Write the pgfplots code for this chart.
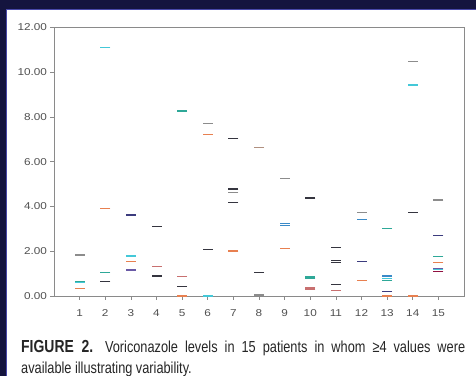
\documentclass[border=0pt]{standalone}
\usepackage{pgfplots}
\pgfplotsset{compat=1.18}
\usepackage{fontspec}
\setmainfont{Liberation Sans}
\newfontfamily\capfont[FakeStretch=0.8]{Liberation Sans}
\newfontfamily\capbold[FakeStretch=0.8]{Liberation Sans Bold}
\newfontfamily\ticfont[FakeStretch=1.18]{Liberation Sans}
\definecolor{navyb}{HTML}{14143E}
\definecolor{navyl}{HTML}{4848A8}
\definecolor{cgray}{HTML}{8C8C8C}
\definecolor{cdark}{HTML}{35353F}
\definecolor{cnavy}{HTML}{3C3C7E}
\definecolor{cpurp}{HTML}{6A5AA6}
\definecolor{cteal}{HTML}{2EA898}
\definecolor{ccyan}{HTML}{44C8D8}
\definecolor{cblue}{HTML}{3A8AC8}
\definecolor{coran}{HTML}{E88050}
\definecolor{cpink}{HTML}{C87070}
\definecolor{ctan}{HTML}{B09080}
\definecolor{cmag}{HTML}{901040}
\definecolor{axgray}{HTML}{8A8A8A}
\definecolor{lblgray}{HTML}{505050}
\begin{document}
\begin{tikzpicture}
% white page, navy border on left and top only
\fill[white] (-54bp,-80bp) rectangle (422bp,296bp);
\fill[navyb] (-54bp,-80bp) rectangle (-47bp,296bp);
\fill[navyb] (-54bp,286bp) rectangle (422bp,296bp);
\draw[navyl, line width=1bp] (-47bp,-80bp) -- (-47bp,286bp) -- (422bp,286bp);
\begin{axis}[
  at={(0,0)}, anchor=south west,
  scale only axis, width=410bp, height=268.7bp,
  xmin=0, xmax=16, ymin=0, ymax=12,
  xtick={1,...,15}, ytick={0,2,...,12},
  axis line style={axgray, line width=0.8pt},
  tick style={axgray, line width=0.7pt},
  tick align=outside, major tick length=3.5bp,
  xtick pos=bottom, ytick pos=left,
  tick label style={font=\ticfont\fontsize{10}{12}\selectfont, text=lblgray},
  xticklabel style={yshift=-7bp},
  /pgf/number format/assume math mode=true,
  yticklabel style={/pgf/number format/.cd, fixed, fixed zerofill, precision=2},
  clip=false,
  every axis plot/.append style={only marks, mark=-, mark size=5bp},
]
\addplot[mark options={draw=cgray, line width=1.3pt}] coordinates {
 (1,1.83) (6,7.71) (7,4.62) (9,5.26) (12,3.74) (14,10.47) (15,4.29) (8,0.05)};
\addplot[mark options={draw=ctan, line width=1.3pt}] coordinates {
 (8,6.62)};
\addplot[mark options={draw=cdark, line width=1.3pt}] coordinates {
 (2,0.64) (4,3.11) (4,0.89) (5,0.42) (6,2.07) (7,7.04) (7,4.78) (7,4.17)
 (8,1.04) (10,4.38) (11,2.17) (11,1.57) (11,1.50) (11,0.52) (14,3.74)};
\addplot[mark options={draw=cnavy, line width=1.3pt}] coordinates {
 (3,3.62) (12,1.53) (13,0.19) (15,2.69)};
\addplot[mark options={draw=cpurp, line width=1.3pt}] coordinates {
 (3,1.16) (15,1.24)};
\addplot[mark options={draw=cteal, line width=1.3pt}] coordinates {
 (1,0.66) (2,1.04) (5,8.26) (10,0.85) (10,0.80) (13,3.01) (13,0.68) (15,1.76)};
\addplot[mark options={draw=ccyan, line width=1.3pt}] coordinates {
 (1,0.61) (2,11.1) (3,1.79) (6,0.0) (14,9.42) (15,1.17) (13,0.79)};
\addplot[mark options={draw=cblue, line width=1.3pt}] coordinates {
 (9,3.25) (9,3.16) (12,3.42) (13,0.89)};
\addplot[mark options={draw=coran, line width=1.3pt}] coordinates {
 (1,0.34) (2,3.92) (3,1.53) (5,0.0) (6,7.21) (7,2.01) (9,2.13) (12,0.68)
 (13,0.0) (14,0.0) (15,1.50)};
\addplot[mark options={draw=cpink, line width=1.3pt}] coordinates {
 (4,1.31) (5,0.86) (10,0.38) (10,0.31) (11,0.24)};
\addplot[mark options={draw=cmag, line width=1.3pt}] coordinates {
 (15,1.09)};
\end{axis}
% caption
\node[anchor=base west, inner sep=0, text=black!85] at (-33bp,-56bp)
 {\makebox[444bp][s]{{\capbold\fontsize{17.5}{20}\selectfont FIGURE 2.} \capfont\fontsize{16}{18}\selectfont Voriconazole levels in 15 patients in whom ≥4 values were}};
\node[anchor=base west, inner sep=0, text=black!85] at (-33bp,-77bp)
 {\capfont\fontsize{16}{18}\selectfont available illustrating variability.};
\pgfresetboundingbox
\useasboundingbox (-54bp,-80bp) rectangle (422bp,296bp);
\end{tikzpicture}
\end{document}
